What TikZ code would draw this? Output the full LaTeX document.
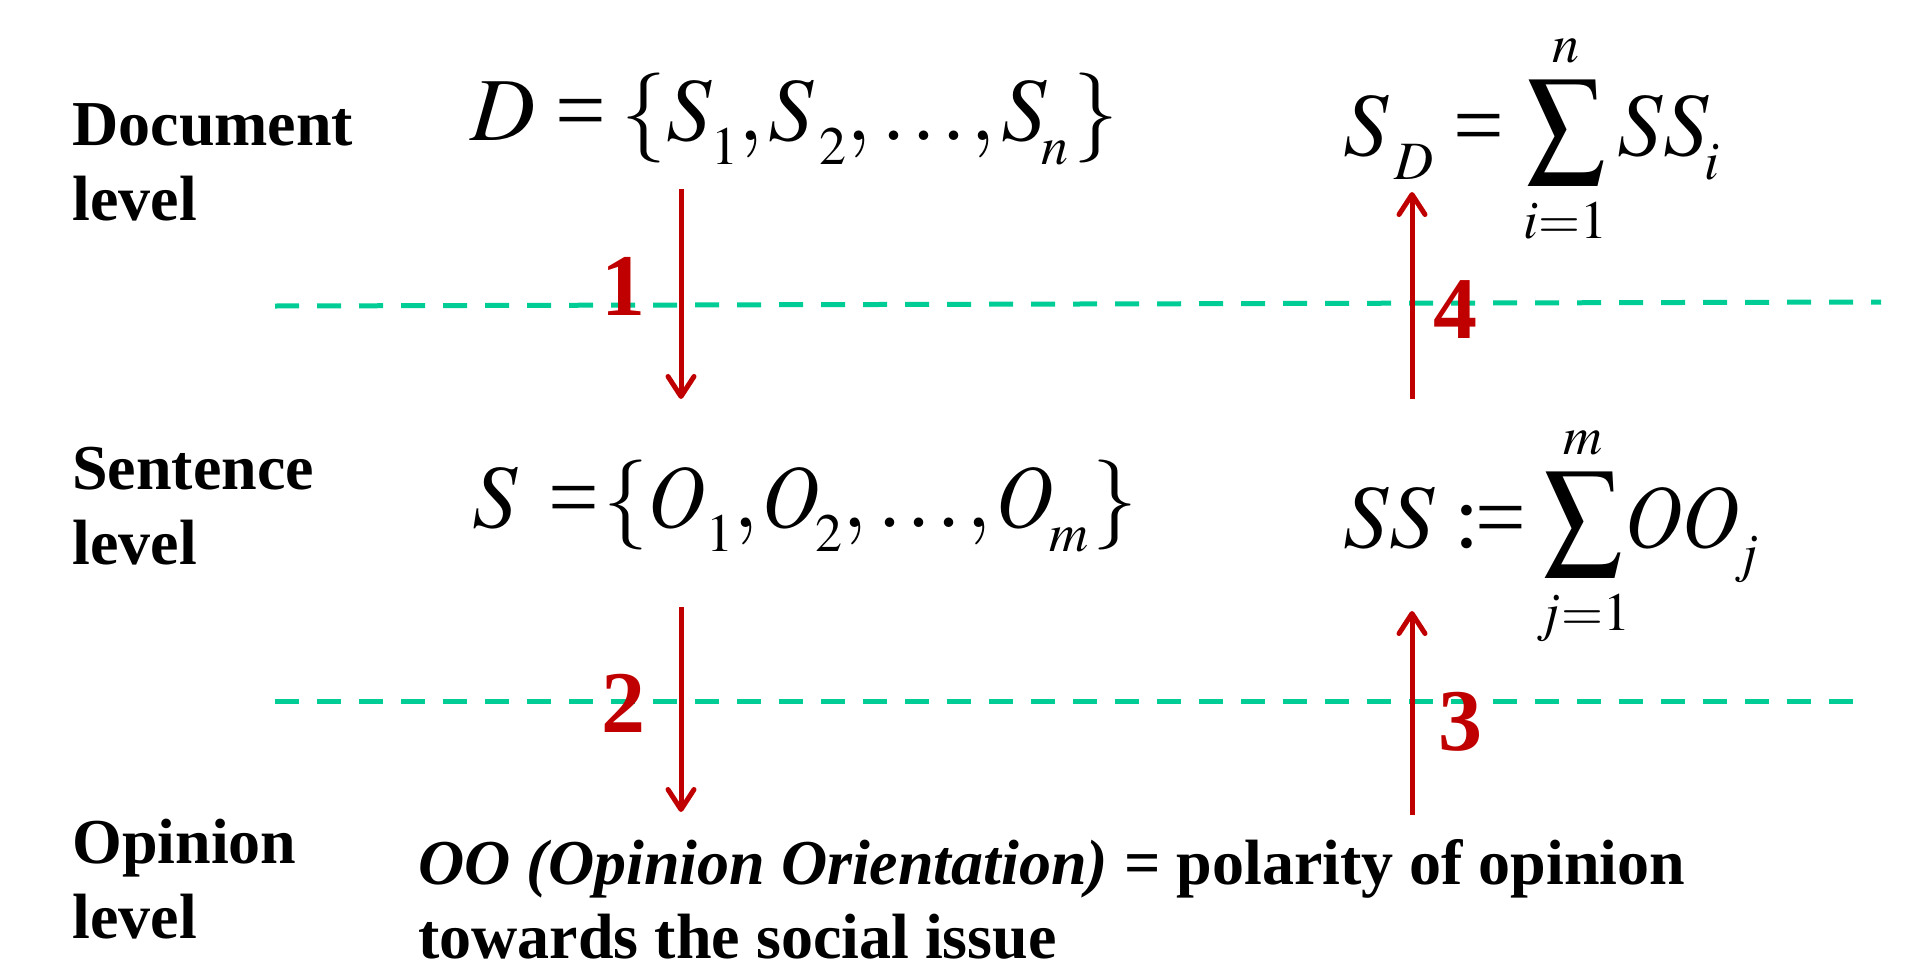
\documentclass[tikz,border=0pt]{standalone}
\usepackage{mathptmx}
\usepackage[no-math]{fontspec}
\setmainfont{Liberation Serif}
\usetikzlibrary{arrows.meta}
\definecolor{dashgreen}{RGB}{0,204,150}
\definecolor{arrred}{RGB}{192,0,0}
\newcommand{\lsub}[2][1mu]{\mkern#1\raisebox{-12pt}{$\scriptscriptstyle #2$}}
\newcommand{\teq}{\mathord{\hbox{=}}}
\newcommand{\cm}{{,}\mkern1mu}
\newcommand{\dts}{\mkern1mu{.}\mkern1mu{.}\mkern1mu{.}\mkern1mu}
\newcommand{\Oc}{\mathord{\scalebox{0.88}[1]{$O$}}}
\newcommand{\bsum}{\mathop{\vcenter{\hbox{\scalebox{0.86}[0.94]{$\displaystyle\sum$}}}}}
\tikzset{
  lvl/.style={font=\fontsize{32}{37.5}\selectfont\bfseries, align=left, anchor=base west, inner sep=0pt},
  eq/.style={font=\fontsize{45}{50}\selectfont, anchor=base west, inner sep=0pt},
  num/.style={font=\fontsize{44}{50}\selectfont\bfseries, text=arrred, anchor=base, inner sep=0pt},
  sep/.style={draw=dashgreen, line width=2.5pt, dash pattern=on 12pt off 9pt},
  flow/.style={draw=arrred, line width=2.5pt, -{Straight Barb[length=10pt,width=13pt,round]}},
  desc/.style={font=\fontsize{32}{37}\selectfont\bfseries, align=left, anchor=base west, inner sep=0pt}
}
\begin{document}
\begin{tikzpicture}[x=0.5pt,y=-0.5pt]
\useasboundingbox (0,0) rectangle (1915,969);
% level labels
\node[lvl] (doc) at (72,220) {Document\\level};
\node[lvl] (sen) at (72,564) {Sentence\\level};
\node[lvl] (opi) at (72,938) {Opinion\\level};
% equations
\node[eq] (Deq) at (470,140) {$D\mkern4mu\teq\mkern3mu\{S\lsub[0mu]{1}\cm S\lsub{2}\cm\dts\cm S\lsub[-1mu]{n}\mkern1mu\}$};
\node[eq] (Seq) at (472,527) {$S\mkern6mu\teq\mkern1mu\{\Oc\lsub[0mu]{1}\cm\Oc\lsub[-1mu]{2}\cm\dts\cm\Oc\lsub[-1mu]{m}\mkern1mu\}$};
\node[eq] (SDeq) at (1343,155) {$S\lsub{D}\mkern4mu\teq\mkern2mu\bsum\limits_{\scriptscriptstyle i=1}^{\scriptscriptstyle n}SS\lsub[-1mu]{i}$};
\node[eq] (SSeq) at (1343,547) {$SS\mkern4mu\mathord{\hbox{:\kern-2pt=}}\bsum\limits_{\scriptscriptstyle j=1}^{\scriptscriptstyle m}\mkern-3mu\Oc\Oc\lsub[-1mu]{j}$};
% separators
\coordinate (l1a) at (275,306); \coordinate (l1b) at (1881,302);
\coordinate (l2a) at (275,701); \coordinate (l2b) at (1853,701);
\draw[sep] (l1a) -- (l1b);
\draw[sep] (l2a) -- (l2b);
% arrows
\coordinate (a1s) at (681,189); \coordinate (a1e) at (681,399);
\coordinate (a2s) at (681,607); \coordinate (a2e) at (681,812);
\coordinate (a3s) at (1412,815); \coordinate (a3e) at (1412,611);
\coordinate (a4s) at (1412,399); \coordinate (a4e) at (1412,192);
\draw[flow] (a1s) -- (a1e);
\draw[flow] (a2s) -- (a2e);
\draw[flow] (a3s) -- (a3e);
\draw[flow] (a4s) -- (a4e);
\node[num] (n1) at (623,315) {1};
\node[num] (n2) at (623,732) {2};
\node[num] (n3) at (1460,750) {3};
\node[num] (n4) at (1455,338) {4};
% description
\node[desc] (oo) at (418,958) {\textit{OO (Opinion Orientation)} = polarity of opinion\\towards the social issue};
\end{tikzpicture}
\end{document}
